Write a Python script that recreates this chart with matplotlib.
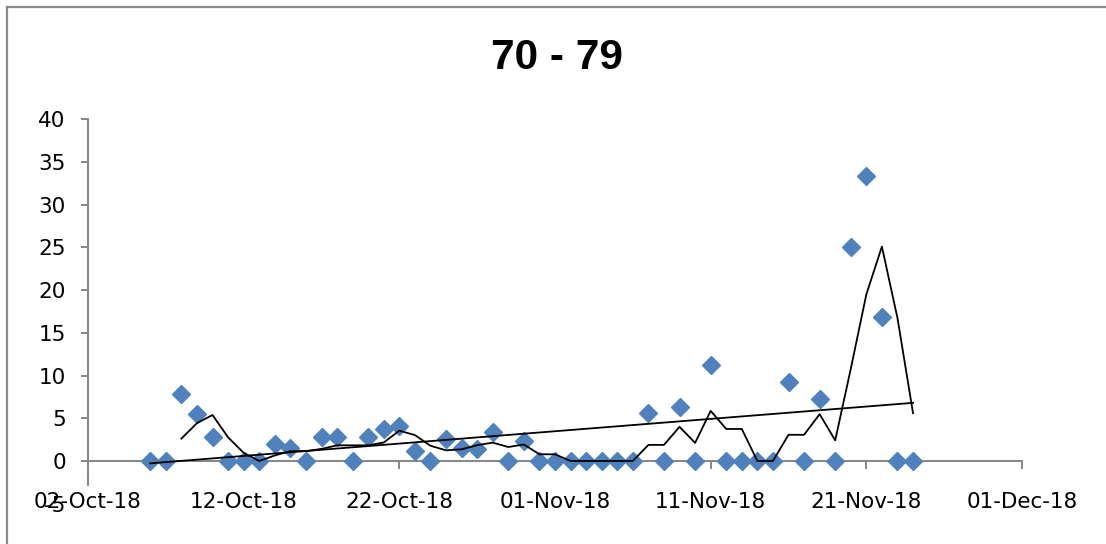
import matplotlib
matplotlib.use("Agg")
import matplotlib.pyplot as plt
import matplotlib.dates as mdates
from matplotlib.lines import Line2D
import numpy as np
import pandas as pd

# ---- data ----
dates = ["2018-10-06", "2018-10-07", "2018-10-08", "2018-10-09", "2018-10-10",
         "2018-10-11", "2018-10-12", "2018-10-13", "2018-10-14", "2018-10-15",
         "2018-10-16", "2018-10-17", "2018-10-18", "2018-10-19", "2018-10-20",
         "2018-10-21", "2018-10-22", "2018-10-23", "2018-10-24", "2018-10-25",
         "2018-10-26", "2018-10-27", "2018-10-28", "2018-10-29", "2018-10-30",
         "2018-10-31", "2018-11-01", "2018-11-02", "2018-11-03", "2018-11-04",
         "2018-11-05", "2018-11-06", "2018-11-07", "2018-11-08", "2018-11-09",
         "2018-11-10", "2018-11-11", "2018-11-12", "2018-11-13", "2018-11-14",
         "2018-11-15", "2018-11-16", "2018-11-17", "2018-11-18", "2018-11-19",
         "2018-11-20", "2018-11-21", "2018-11-22", "2018-11-23", "2018-11-24"]
values = [0, 0, 7.85, 5.45, 2.85,
          0, 0, 0, 1.95, 1.5,
          0, 2.75, 2.75, 0, 2.75,
          3.75, 4.15, 1.2, 0, 2.55,
          1.55, 1.45, 3.45, 0, 2.35,
          0, 0, 0, 0, 0,
          0, 0, 5.65, 0, 6.35,
          0, 11.25, 0, 0, 0,
          0, 9.2, 0, 7.25, 0,
          25.1, 33.4, 16.8, 0, 0]
title = "70 - 79"
x_ticks = ["2018-10-02", "2018-10-12", "2018-10-22", "2018-11-01",
           "2018-11-11", "2018-11-21", "2018-12-01"]
y_ticks = [-5, 0, 5, 10, 15, 20, 25, 30, 35, 40]

# ---- derived ----
x = pd.to_datetime(dates)
xn = mdates.date2num(x)
s = pd.Series(values, dtype=float)
ma = s.rolling(3).mean()
coef = np.polyfit(xn, s.values, 1)
trend = np.polyval(coef, xn[[0, -1]])

W, H = 1106, 544
fig = plt.figure(figsize=(W / 100, H / 100), dpi=100)
ax = fig.add_axes([88 / W, 1 - 503.7 / H, (1022 - 88) / W, (503.7 - 119.3) / H])

axis_col = "#868686"
ax.plot(xn, s.values, linestyle="none", marker="D", ms=8.8,
        color="#4F81BD", mec="#4F81BD", zorder=3)
ax.plot(xn, ma.values, color="black", lw=1.3, zorder=4)
ax.plot(xn[[0, -1]], trend, color="black", lw=1.3, zorder=4)

xt = mdates.date2num(pd.to_datetime(x_ticks))
ax.set_xlim(xt[0], xt[-1])
ax.set_ylim(-5, 40)
ax.set_xticks(xt)
ax.set_xticklabels([d.strftime("%d-%b-%y") for d in pd.to_datetime(x_ticks)])
ax.set_yticks(y_ticks)
ax.set_yticklabels([str(v) for v in y_ticks])

for side in ["top", "right"]:
    ax.spines[side].set_visible(False)
ax.spines["bottom"].set_position(("data", 0))
ax.spines["left"].set_bounds(-2.8, 40)
for side in ["bottom", "left"]:
    ax.spines[side].set_color(axis_col)
    ax.spines[side].set_linewidth(1.4)

ax.tick_params(axis="y", direction="out", length=5, width=1.4, color=axis_col,
               pad=11, labelsize=15.5, labelcolor="black")
ax.tick_params(axis="x", direction="out", length=6, width=1.4, color=axis_col,
               pad=16, labelsize=15.5, labelcolor="black")
ax.yaxis.get_major_ticks()[0].tick1line.set_visible(False)

fig.text(557 / W, 1 - 58 / H, title, ha="center", va="center",
         fontsize=30.5, fontweight="bold", family="Liberation Sans")

# outer chart frame (clipped at right and bottom)
fig.add_artist(Line2D([7 / W, 7 / W], [0, 1 - 7 / H], color="#8c8c8c", lw=1.6))
fig.add_artist(Line2D([7 / W, 1], [1 - 7 / H, 1 - 7 / H], color="#8c8c8c", lw=1.6))

fig.savefig("out.png", dpi=100)
